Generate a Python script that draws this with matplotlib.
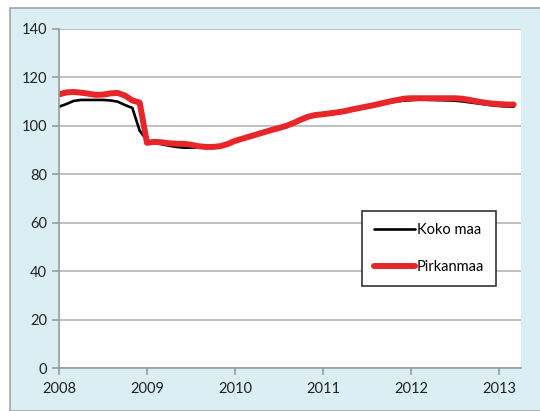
import matplotlib.pyplot as plt
from matplotlib.patches import Rectangle
import numpy as np

plt.rcParams['font.family'] = ['Lato', 'DejaVu Sans']

# monthly index values, Jan 2008 .. Mar 2013
koko_maa = [107.9, 109.0, 110.3, 110.7, 110.7, 110.7, 110.7, 110.5, 110.0, 108.6, 107.4, 98.0,
            94.0, 93.0, 92.4, 91.8, 91.3, 91.0, 91.0, 91.0, 91.0, 91.2, 91.7, 92.5,
            93.6, 94.5, 95.4, 96.3, 97.2, 98.0, 98.9, 99.9, 101.0, 102.3, 103.5, 104.4,
            104.9, 105.3, 105.8, 106.3, 106.9, 107.5, 108.0, 108.5, 109.1, 109.6, 110.1, 110.4,
            110.6, 110.8, 110.8, 110.7, 110.6, 110.5, 110.4, 110.1, 109.7, 109.3, 108.9, 108.5,
            108.2, 108.0, 107.9]
pirkanmaa = [113.0, 113.8, 114.0, 113.7, 113.3, 112.8, 112.9, 113.4, 113.6, 112.5, 110.5, 109.6,
             93.0, 93.4, 93.2, 92.8, 92.6, 92.6, 92.2, 91.6, 91.3, 91.3, 91.6, 92.5,
             93.8, 94.7, 95.6, 96.5, 97.4, 98.3, 99.1, 100.0, 101.2, 102.6, 103.8, 104.5,
             104.8, 105.2, 105.6, 106.1, 106.8, 107.4, 108.0, 108.6, 109.3, 110.0, 110.6, 111.2,
             111.4, 111.4, 111.4, 111.4, 111.4, 111.4, 111.4, 111.2, 110.7, 110.1, 109.6, 109.2,
             109.0, 108.8, 108.8]
years = [2008, 2009, 2010, 2011, 2012, 2013]

t = 2008 + np.arange(len(koko_maa)) / 12.0

fig = plt.figure(figsize=(5.4, 4.11), dpi=100)
fig.patches.append(Rectangle((10 / 540, 0), 1, 1 - 8 / 411, transform=fig.transFigure,
                             facecolor='#dbeef4', edgecolor='#a6a6a6', linewidth=1.2, zorder=-5))

ax = fig.add_axes([59 / 540, 43 / 411, 462 / 540, 339 / 411])
ax.set_zorder(1)
ax.set_facecolor('white')
ax.plot(t, koko_maa, color='black', lw=1.9, label='Koko maa', solid_capstyle='round')
ax.plot(t, pirkanmaa, color='#e8262a', lw=4.3, label='Pirkanmaa', solid_capstyle='round')

ax.set_xlim(2008, 2013.25)
ax.set_ylim(0, 140)
ax.set_xticks(years)
ax.set_yticks(range(0, 141, 20))
ax.grid(axis='y', color='#b5b5b5', lw=1.2)
ax.set_axisbelow(True)
for s in ['top', 'right']:
    ax.spines[s].set_visible(False)
for s in ['left', 'bottom']:
    ax.spines[s].set_color('#9a9a9a')
    ax.spines[s].set_linewidth(1.2)
ax.tick_params(axis='both', colors='#9a9a9a', labelcolor='#222222', labelsize=10.5, length=5, width=1.2)
ax.tick_params(axis='x', pad=5)

leg = ax.legend(loc='upper left', bbox_to_anchor=(0.656, 0.462), fontsize=10.5, fancybox=False,
                edgecolor='#333333', framealpha=1, labelspacing=1.6, handlelength=2.8,
                handletextpad=0.15, borderpad=0.8, borderaxespad=0)
leg.get_frame().set_linewidth(1.2)

fig.savefig('out.png', dpi=100)
